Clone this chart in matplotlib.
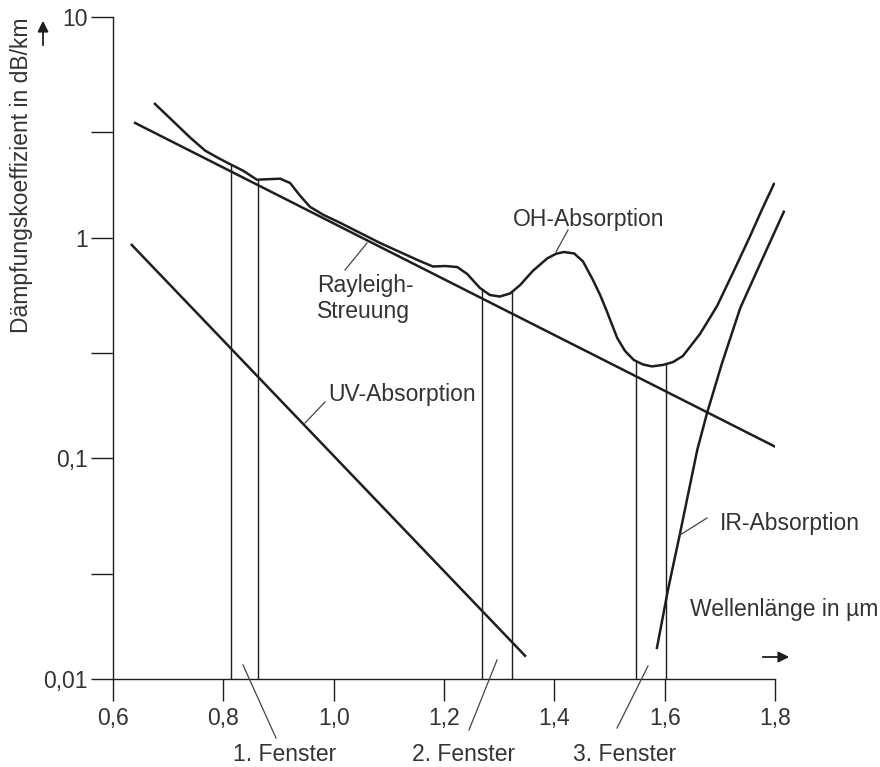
import numpy as np
import matplotlib
matplotlib.use("Agg")
import matplotlib.pyplot as plt

plt.rcParams['font.family'] = ['Liberation Sans', 'DejaVu Sans']

# Gesamtdaempfung
total_x = [0.676, 0.740, 0.767, 0.789, 0.808, 0.836, 0.861, 0.879, 0.903, 0.921,
           0.939, 0.957, 0.981, 1.011, 1.084, 1.156, 1.180, 1.202, 1.224, 1.242,
           1.265, 1.283, 1.301, 1.320, 1.338, 1.361, 1.387, 1.403, 1.417, 1.436,
           1.452, 1.470, 1.483, 1.495, 1.514, 1.528, 1.544, 1.561, 1.577, 1.597,
           1.615, 1.633, 1.664, 1.695, 1.727, 1.755, 1.776, 1.798]
total_y = [4.04, 2.84, 2.48, 2.31, 2.18, 2.01, 1.83, 1.84, 1.85, 1.77,
           1.55, 1.38, 1.27, 1.17, 0.946, 0.784, 0.740, 0.744, 0.736, 0.685,
           0.592, 0.550, 0.541, 0.559, 0.610, 0.707, 0.805, 0.845, 0.861, 0.848,
           0.780, 0.643, 0.550, 0.465, 0.351, 0.307, 0.279, 0.266, 0.261, 0.265,
           0.273, 0.291, 0.366, 0.490, 0.721, 1.018, 1.335, 1.75]

rayleigh_x = [0.640, 1.800]
rayleigh_y = [3.31, 0.113]

uv_x = [0.634, 1.347]
uv_y = [0.927, 0.01274]

ir_x = [1.586, 1.606, 1.628, 1.659, 1.677, 1.704, 1.737, 1.773, 1.816]
ir_y = [0.01384, 0.02535, 0.0459, 0.109, 0.161, 0.270, 0.480, 0.760, 1.31]

fenster = [(0.814, 0.863), (1.269, 1.323), (1.548, 1.602)]
fenster_labels = ['1. Fenster', '2. Fenster', '3. Fenster']

x_ticks = [0.6, 0.8, 1.0, 1.2, 1.4, 1.6, 1.8]
x_labels = ['0,6', '0,8', '1,0', '1,2', '1,4', '1,6', '1,8']
y_ticks = [0.01, 0.03, 0.1, 0.3, 1, 3, 10]
y_labels = ['0,01', '', '0,1', '', '1', '', '10']

W, H = 880, 767
col = '#1e1e1e'
tcol = '#333333'
fs = 16.5

def px(x, y):
    return (x / W, 1 - y / H)

fig = plt.figure(figsize=(W / 100, H / 100), dpi=100)
ax = fig.add_axes([113 / W, 88 / H, 662 / W, 662 / H])
ax.set_yscale('log')
ax.set_xlim(0.6, 1.8)
ax.set_ylim(0.01, 10)

ax.plot(total_x, total_y, color=col, lw=1.8, solid_joinstyle='round')
ax.plot(rayleigh_x, rayleigh_y, color=col, lw=1.8)
ax.plot(uv_x, uv_y, color=col, lw=1.8)
ax.plot(ir_x, ir_y, color=col, lw=1.8, clip_on=False, solid_joinstyle='round')

logt = np.log10(total_y)
for a, b in fenster:
    for xv in (a, b):
        top = 10 ** np.interp(xv, total_x, logt)
        ax.plot([xv, xv], [0.01, top], color=col, lw=1.0)

ax.set_xticks(x_ticks)
ax.set_xticklabels(x_labels)
ax.set_yticks(y_ticks)
ax.set_yticklabels(y_labels)
ax.minorticks_off()
ax.tick_params(axis='both', length=16, width=1.0, color=col, labelsize=fs,
               labelcolor=tcol, direction='out')
ax.tick_params(axis='x', pad=4)
ax.tick_params(axis='y', pad=2)
for s in ['top', 'right']:
    ax.spines[s].set_visible(False)
for s in ['left', 'bottom']:
    ax.spines[s].set_linewidth(1.0)
    ax.spines[s].set_color(col)

fig.text(*px(22, 175), 'Dämpfungskoeffizient in dB/km', rotation=90,
         ha='center', va='center', fontsize=fs, color=tcol)
fig.text(*px(690, 616), 'Wellenlänge in µm', ha='left', va='baseline',
         fontsize=fs, color=tcol)

# achsenpfeile
ax.annotate('', xy=px(43, 18), xytext=px(43, 48), xycoords='figure fraction',
            textcoords='figure fraction',
            arrowprops=dict(arrowstyle='-|>', color=col, lw=1.3,
                            mutation_scale=16))
ax.annotate('', xy=px(792, 657), xytext=px(760, 657), xycoords='figure fraction',
            textcoords='figure fraction',
            arrowprops=dict(arrowstyle='-|>', color=col, lw=1.3,
                            mutation_scale=16))

# beschriftungen mit hinweislinien
labels = [
    ('Rayleigh-', (317, 292), None),
    ('Streuung', (317, 318), ((345, 270), (367, 243))),
    ('OH-Absorption', (513, 226), ((568, 230), (556, 252))),
    ('UV-Absorption', (328, 401), ((325, 402), (305, 423))),
    ('IR-Absorption', (720, 530), ((707, 518), (680, 535))),
    (fenster_labels[0], (233, 761), ((276, 738), (243, 665))),
    (fenster_labels[1], (412, 761), ((469, 730), (497, 660))),
    (fenster_labels[2], (573, 761), ((617, 728), (648, 666))),
]
for txt, pos, lead in labels:
    fig.text(*px(*pos), txt, ha='left', va='baseline', fontsize=fs, color=tcol)
    if lead:
        (x0, y0), (x1, y1) = lead
        p0, p1 = px(x0, y0), px(x1, y1)
        fig.add_artist(plt.Line2D([p0[0], p1[0]], [p0[1], p1[1]],
                                  color='#444444', lw=0.9))

fig.savefig('out.png', dpi=100)
